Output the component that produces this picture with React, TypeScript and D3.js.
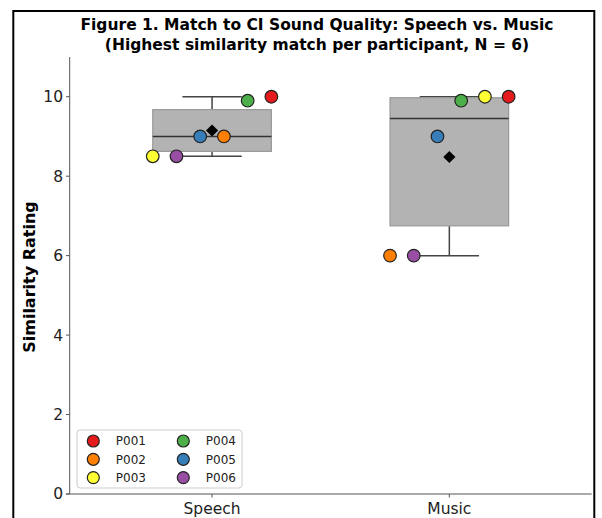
import * as d3 from 'd3'

const groups = ['Speech', 'Music']
const participants = ['P001', 'P002', 'P003', 'P004', 'P005', 'P006']
const colors = ['#e41a1c', '#ff7f00', '#ffff33', '#4daf4a', '#377eb8', '#984ea3']
const speechValues = [10, 9, 8.5, 9.9, 9, 8.5]
const musicValues = [10, 6, 10, 9.9, 9, 6]
// horizontal spread of the dots around each box, in category units
const speechOffsets = [0.25, 0.05, -0.25, 0.15, -0.05, -0.15]
const musicOffsets = [0.25, -0.25, 0.15, 0.05, -0.05, -0.15]
const yTicks = [0, 2, 4, 6, 8, 10]

const W = 602
const H = 518
const font = 'DejaVu Sans, sans-serif'

function stats(values: number[]) {
    const s = [...values].sort(d3.ascending)
    const q1 = d3.quantileSorted(s, 0.25)!
    const med = d3.quantileSorted(s, 0.5)!
    const q3 = d3.quantileSorted(s, 0.75)!
    const iqr = q3 - q1
    const lo = d3.min(s.filter(v => v >= q1 - 1.5 * iqr))!
    const hi = d3.max(s.filter(v => v <= q3 + 1.5 * iqr))!
    return { q1, med, q3, lo, hi, mean: d3.mean(s)! }
}

export default function App() {
    const xScale = d3.scaleLinear().domain([-0.6, 1.6]).range([69.7, 591.7])
    const yScale = d3.scaleLinear().domain([0, 11]).range([494, 57])
    const boxW = xScale(0.5) - xScale(0)
    const capW = xScale(0.25) - xScale(0)

    const series = [
        { values: speechValues, offsets: speechOffsets },
        { values: musicValues, offsets: musicOffsets },
    ]

    const diamond = d3.symbol().type(d3.symbolDiamond2).size(95)

    return (
        <svg width={W} height={H} style={{ display: 'block', position: 'absolute', left: 0, top: 0 }} fontFamily={font}>
            <rect x={0} y={0} width={W} height={H} fill="white" />
            <rect x={13.3} y={11} width={581} height={530} fill="none" stroke="black" strokeWidth={2} />

            <text x={317} y={30} textAnchor="middle" fontSize={15.5} fontWeight="bold">
                Figure 1. Match to CI Sound Quality: Speech vs. Music
            </text>
            <text x={317} y={50} textAnchor="middle" fontSize={15.5} fontWeight="bold">
                (Highest similarity match per participant, N = 6)
            </text>

            {/* boxes */}
            {series.map((s, i) => {
                const st = stats(s.values)
                const cx = xScale(i)
                return (
                    <g key={groups[i]}>
                        <line x1={cx} x2={cx} y1={yScale(st.q3)} y2={yScale(st.hi)} stroke="#444" strokeWidth={1.5} />
                        <line x1={cx} x2={cx} y1={yScale(st.q1)} y2={yScale(st.lo)} stroke="#444" strokeWidth={1.5} />
                        <line x1={cx - capW / 2} x2={cx + capW / 2} y1={yScale(st.hi)} y2={yScale(st.hi)} stroke="#444" strokeWidth={1.5} />
                        <line x1={cx - capW / 2} x2={cx + capW / 2} y1={yScale(st.lo)} y2={yScale(st.lo)} stroke="#444" strokeWidth={1.5} />
                        <rect x={cx - boxW / 2} y={yScale(st.q3)} width={boxW} height={yScale(st.q1) - yScale(st.q3)}
                            fill="#b3b3b3" stroke="#999" strokeWidth={1.2} />
                        <line x1={cx - boxW / 2} x2={cx + boxW / 2} y1={yScale(st.med)} y2={yScale(st.med)} stroke="#333" strokeWidth={1.5} />
                        <path d={diamond()!} transform={`translate(${cx}, ${yScale(st.mean)})`} fill="black" />
                    </g>
                )
            })}

            {/* points */}
            {series.map((s, i) => (
                <g key={'pts' + i}>
                    {s.values.map((v, j) => (
                        <circle key={j} cx={xScale(i + s.offsets[j])} cy={yScale(v)} r={6.3}
                            fill={colors[j]} stroke="#222" strokeWidth={1.2} />
                    ))}
                </g>
            ))}

            {/* axes */}
            <line x1={69.7} x2={69.7} y1={57} y2={494} stroke="#555" strokeWidth={1} />
            <line x1={66} x2={591.7} y1={494} y2={494} stroke="#555" strokeWidth={1} />
            {yTicks.map(t => (
                <g key={t}>
                    <line x1={66} x2={69.7} y1={yScale(t)} y2={yScale(t)} stroke="#555" />
                    <text x={63} y={yScale(t)} dy="0.35em" textAnchor="end" fontSize={15.5} fill="#222">{t}</text>
                </g>
            ))}
            {groups.map((g, i) => (
                <g key={g}>
                    <line x1={xScale(i)} x2={xScale(i)} y1={494} y2={497.5} stroke="#555" />
                    <text x={xScale(i)} y={514} textAnchor="middle" fontSize={15.5} fill="#222">{g}</text>
                </g>
            ))}
            <text transform={`translate(35, 277) rotate(-90)`} textAnchor="middle" fontSize={16} fontWeight="bold">
                Similarity Rating
            </text>

            {/* legend */}
            <rect x={77} y={430} width={165} height={58} rx={3} fill="white" fillOpacity={0.8} stroke="#ccc" />
            {participants.map((p, j) => {
                const col = Math.floor(j / 3)
                const row = j % 3
                const mx = 93.3 + col * 90
                const my = 441 + row * 18.3
                return (
                    <g key={p}>
                        <circle cx={mx} cy={my} r={6} fill={colors[j]} stroke="#222" strokeWidth={1.2} />
                        <text x={mx + 22.5} y={my} dy="0.35em" fontSize={12} fill="#222">{p}</text>
                    </g>
                )
            })}
        </svg>
    )
}
